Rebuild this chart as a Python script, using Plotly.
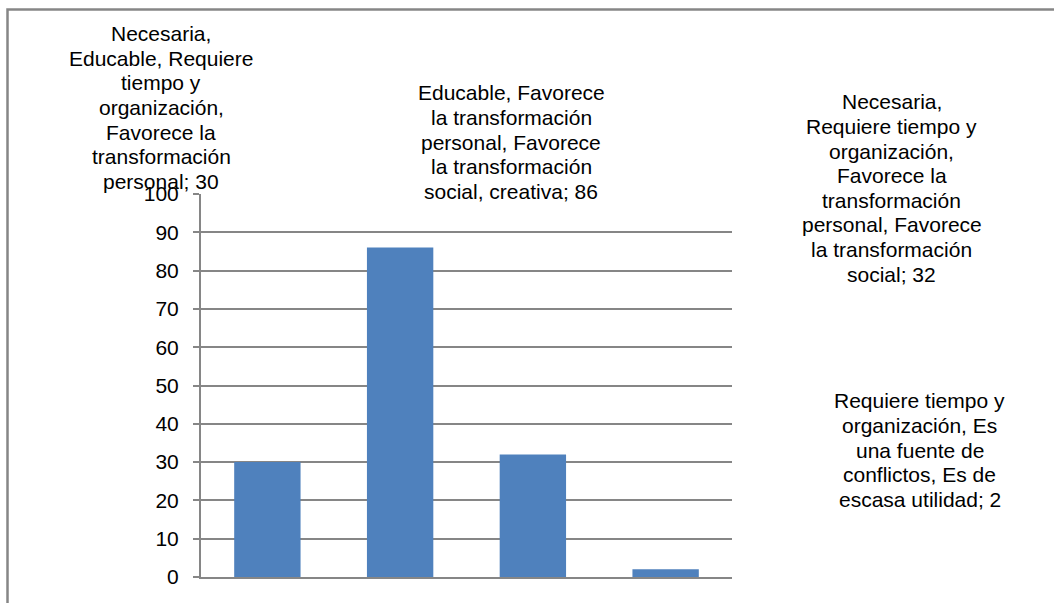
import plotly.graph_objects as go

# ---- data ----
categories = [
    "Necesaria, Educable, Requiere tiempo y organización, Favorece la transformación personal",
    "Educable, Favorece la transformación personal, Favorece la transformación social, creativa",
    "Necesaria, Requiere tiempo y organización, Favorece la transformación personal, Favorece la transformación social",
    "Requiere tiempo y organización, Es una fuente de conflictos, Es de escasa utilidad",
]
values = [30, 86, 32, 2]
label_lines = [
    ["Necesaria,", "Educable, Requiere", "tiempo y", "organización,", "Favorece la",
     "transformación", "personal"],
    ["Educable, Favorece", "la transformación", "personal, Favorece", "la transformación",
     "social, creativa"],
    ["Necesaria,", "Requiere tiempo y", "organización,", "Favorece la", "transformación",
     "personal, Favorece", "la transformación", "social"],
    ["Requiere tiempo y", "organización, Es", "una fuente de", "conflictos, Es de",
     "escasa utilidad"],
]
y_ticks = [0, 10, 20, 30, 40, 50, 60, 70, 80, 90, 100]

# ---- layout constants (pixels) ----
W, H = 1054, 603
label_pos = [(161, 107.5), (511, 142), (891.5, 188), (919.5, 450)]
LINE_GAP = 24.6
FSIZE = 21
FONT = "Liberation Sans, Arial, sans-serif"
GRAY = "#868686"

fig = go.Figure()
fig.add_trace(go.Bar(
    x=categories, y=values,
    marker=dict(color="#4F81BD", line=dict(width=0)),
    hoverinfo="x+y",
))

annotations = []
for lines, v, (px, py) in zip(label_lines, values, label_pos):
    full = lines[:-1] + [f"{lines[-1]}; {v}"]
    n = len(full)
    for i, line in enumerate(full):
        ly = py + (i - (n - 1) / 2) * LINE_GAP
        annotations.append(dict(
            text=line, xref="paper", yref="paper",
            x=px / W, y=1 - ly / H, xanchor="center", yanchor="middle",
            showarrow=False, align="center",
            font=dict(family=FONT, size=FSIZE, color="#000000"),
        ))

fig.update_layout(
    width=W, height=H,
    autosize=False,
    margin=dict(l=0, r=0, t=0, b=0, pad=0, autoexpand=False),
    paper_bgcolor="white", plot_bgcolor="white",
    bargap=0.5,
    showlegend=False,
    annotations=annotations,
    shapes=[dict(type="rect", xref="paper", yref="paper",
                 x0=7.5 / W, x1=1.2, y0=-0.2, y1=1 - 9.5 / H,
                 line=dict(color=GRAY, width=2.5), fillcolor="rgba(0,0,0,0)",
                 layer="below")],
    xaxis=dict(
        domain=[201 / W, 732 / W],
        range=[-0.5, 3.5],
        showticklabels=False, ticks="",
        showgrid=False, zeroline=False,
        showline=True, linecolor=GRAY, linewidth=2,
        automargin=False,
    ),
    yaxis=dict(
        domain=[1 - 577 / H, 1 - 194 / H],
        range=[0, 100],
        tickvals=y_ticks,
        ticks="outside", ticklen=6, tickcolor=GRAY, tickwidth=2,
        ticklabelstandoff=10,
        tickfont=dict(family=FONT, size=FSIZE, color="#000000"),
        showgrid=True, gridcolor=GRAY, gridwidth=1.5,
        zeroline=False,
        showline=True, linecolor=GRAY, linewidth=2,
        automargin=False,
    ),
)

fig.write_html(
    "out.html",
    config={"displayModeBar": False},
    post_script="document.body.style.margin='0';document.body.style.overflow='hidden';",
)
